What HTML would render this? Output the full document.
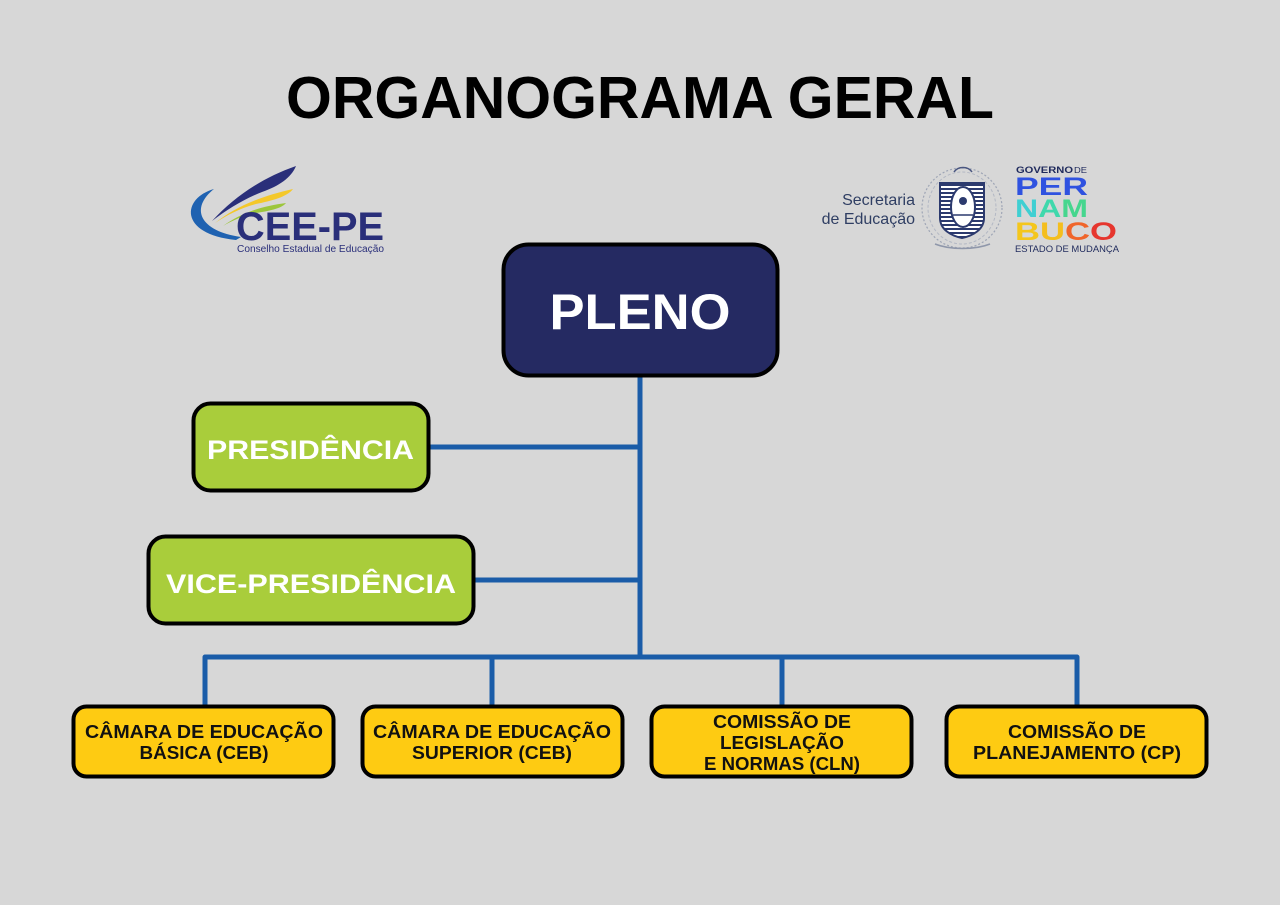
<!DOCTYPE html>
<html>
<head>
<meta charset="utf-8">
<style>
  html,body{margin:0;padding:0;background:#d7d7d7;}
  body{width:1280px;height:905px;overflow:hidden;}
  svg{display:block;}
  text{font-family:"Liberation Sans",Arial,sans-serif;}
</style>
</head>
<body>
<svg width="1280" height="905" viewBox="0 0 1280 905" xmlns="http://www.w3.org/2000/svg">
  <defs>
    <pattern id="stripes" width="4" height="4" patternUnits="userSpaceOnUse">
      <rect width="4" height="4" fill="#ffffff"/>
      <rect width="4" height="2" fill="#2c3a6e"/>
    </pattern>
  </defs>
  <rect width="1280" height="905" fill="#d7d7d7"/>

  <!-- Title -->
  <text x="640" y="118" font-size="59" font-weight="bold" fill="#000" text-anchor="middle" textLength="708" lengthAdjust="spacingAndGlyphs">ORGANOGRAMA GERAL</text>

  <!-- CEE-PE logo -->
  <g>
    <path d="M 214 189 C 182 198, 178 234, 236 240 L 241 237 C 199 231, 190 208, 214 189 Z" fill="#1f62b1"/>
    <path d="M 212 221 C 235 196, 262 178, 296 166 C 291 178, 279 186, 262 192 C 244 199, 228 209, 212 221 Z" fill="#2a2f7a"/>
    <path d="M 215 223 C 236 206, 262 196, 293 189 C 287 197, 271 201, 256 204 C 241 208, 227 215, 215 223 Z" fill="#f4c82a"/>
    <path d="M 223 226 C 241 213, 262 206, 286 203 C 281 209, 268 211, 256 213 C 243 216, 233 220, 223 226 Z" fill="#9cc63c"/>
    <text x="236" y="240" font-size="40" font-weight="bold" fill="#2a2f7a" textLength="148" lengthAdjust="spacingAndGlyphs">CEE-PE</text>
    <text x="237" y="252" font-size="10" fill="#2a2f7a" textLength="147" lengthAdjust="spacingAndGlyphs">Conselho Estadual de Educação</text>
  </g>

  <!-- Secretaria de Educação logo -->
  <g>
    <text x="915" y="205" font-size="16" fill="#2f3e63" text-anchor="end">Secretaria</text>
    <text x="915" y="224" font-size="16" fill="#2f3e63" text-anchor="end">de Educação</text>
    <ellipse cx="962" cy="208" rx="40" ry="40" fill="none" stroke="#9ea5b5" stroke-width="1.2" stroke-dasharray="2 2"/>
    <ellipse cx="962" cy="208" rx="34" ry="36" fill="none" stroke="#b3b8c4" stroke-width="1" stroke-dasharray="3 2"/>
    <path d="M 954 172 C 958 166, 968 166, 972 172" fill="none" stroke="#4a5680" stroke-width="1.5"/>
    <path d="M 940 183 L 984 183 L 984 218 C 984 230, 972 236, 962 238 C 952 236, 940 230, 940 218 Z" fill="url(#stripes)" stroke="#2c3a6e" stroke-width="2"/>
    <ellipse cx="963" cy="207" rx="12" ry="20" fill="#ffffff" stroke="#2c3a6e" stroke-width="2"/>
    <circle cx="963" cy="201" r="4" fill="#2c3a6e"/>
    <path d="M 953 215 L 973 215" stroke="#2c3a6e" stroke-width="1.5"/>
    <path d="M 935 244 C 950 250, 975 250, 990 244" fill="none" stroke="#8f97aa" stroke-width="1.5"/>
    <text x="1016" y="173" font-size="9" font-weight="bold" fill="#1f2a5c" textLength="57" lengthAdjust="spacingAndGlyphs">GOVERNO</text>
    <text x="1074" y="173" font-size="8.5" fill="#1f2a5c" textLength="13" lengthAdjust="spacingAndGlyphs">DE</text>
    <text x="1015" y="195" font-size="25" font-weight="bold" fill="#2f52e0" textLength="73" lengthAdjust="spacingAndGlyphs">PER</text>
    <text x="1015" y="217" font-size="25" font-weight="bold" textLength="73" lengthAdjust="spacingAndGlyphs"><tspan fill="#3fcfd2">N</tspan><tspan fill="#3fd8ac">A</tspan><tspan fill="#46d68e">M</tspan></text>
    <text x="1015" y="240" font-size="25" font-weight="bold" textLength="102" lengthAdjust="spacingAndGlyphs"><tspan fill="#f4c61c">B</tspan><tspan fill="#f4be1e">U</tspan><tspan fill="#f0652a">C</tspan><tspan fill="#e6362e">O</tspan></text>
    <text x="1015" y="252" font-size="9" fill="#1f2a5c" textLength="104" lengthAdjust="spacingAndGlyphs">ESTADO DE MUDANÇA</text>
  </g>

  <!-- Connectors -->
  <g stroke="#1a5ca8" stroke-width="5" fill="none" stroke-linejoin="round">
    <line x1="640" y1="376" x2="640" y2="659"/>
    <line x1="430" y1="447" x2="640" y2="447"/>
    <line x1="475" y1="580" x2="640" y2="580"/>
    <path d="M 205 707 L 205 657 L 1077 657 L 1077 707"/>
    <line x1="492" y1="657" x2="492" y2="707"/>
    <line x1="782" y1="657" x2="782" y2="707"/>
  </g>

  <!-- PLENO -->
  <rect x="503.5" y="244.5" width="274" height="131" rx="25" fill="#252a62" stroke="#000" stroke-width="4"/>
  <text x="640" y="329" font-size="50" font-weight="bold" fill="#fff" text-anchor="middle" textLength="181" lengthAdjust="spacingAndGlyphs">PLENO</text>

  <!-- Presidência -->
  <rect x="193.5" y="403.5" width="235" height="87" rx="17" fill="#a9cd3b" stroke="#000" stroke-width="4"/>
  <text x="310.5" y="459" font-size="27" font-weight="bold" fill="#fff" text-anchor="middle" textLength="207" lengthAdjust="spacingAndGlyphs">PRESIDÊNCIA</text>

  <!-- Vice-Presidência -->
  <rect x="148.5" y="536.5" width="325" height="87" rx="17" fill="#a9cd3b" stroke="#000" stroke-width="4"/>
  <text x="311" y="593" font-size="27" font-weight="bold" fill="#fff" text-anchor="middle" textLength="290" lengthAdjust="spacingAndGlyphs">VICE-PRESIDÊNCIA</text>

  <!-- Bottom boxes -->
  <g stroke="#000" stroke-width="4" fill="#fecb12">
    <rect x="73.5" y="706.5" width="260" height="70" rx="13"/>
    <rect x="362.5" y="706.5" width="260" height="70" rx="13"/>
    <rect x="651.5" y="706.5" width="260" height="70" rx="13"/>
    <rect x="946.5" y="706.5" width="260" height="70" rx="13"/>
  </g>
  <g font-size="18" font-weight="bold" fill="#111" text-anchor="middle">
    <text x="204" y="738" textLength="238" lengthAdjust="spacingAndGlyphs">CÂMARA DE EDUCAÇÃO</text>
    <text x="204" y="759" textLength="129" lengthAdjust="spacingAndGlyphs">BÁSICA (CEB)</text>

    <text x="492" y="738" textLength="238" lengthAdjust="spacingAndGlyphs">CÂMARA DE EDUCAÇÃO</text>
    <text x="492" y="759" textLength="160" lengthAdjust="spacingAndGlyphs">SUPERIOR (CEB)</text>

    <text x="782" y="728" textLength="138" lengthAdjust="spacingAndGlyphs">COMISSÃO DE</text>
    <text x="782" y="749" textLength="124" lengthAdjust="spacingAndGlyphs">LEGISLAÇÃO</text>
    <text x="782" y="770" textLength="156" lengthAdjust="spacingAndGlyphs">E NORMAS (CLN)</text>

    <text x="1077" y="738" textLength="138" lengthAdjust="spacingAndGlyphs">COMISSÃO DE</text>
    <text x="1077" y="759" textLength="208" lengthAdjust="spacingAndGlyphs">PLANEJAMENTO (CP)</text>
  </g>
</svg>
</body>
</html>
